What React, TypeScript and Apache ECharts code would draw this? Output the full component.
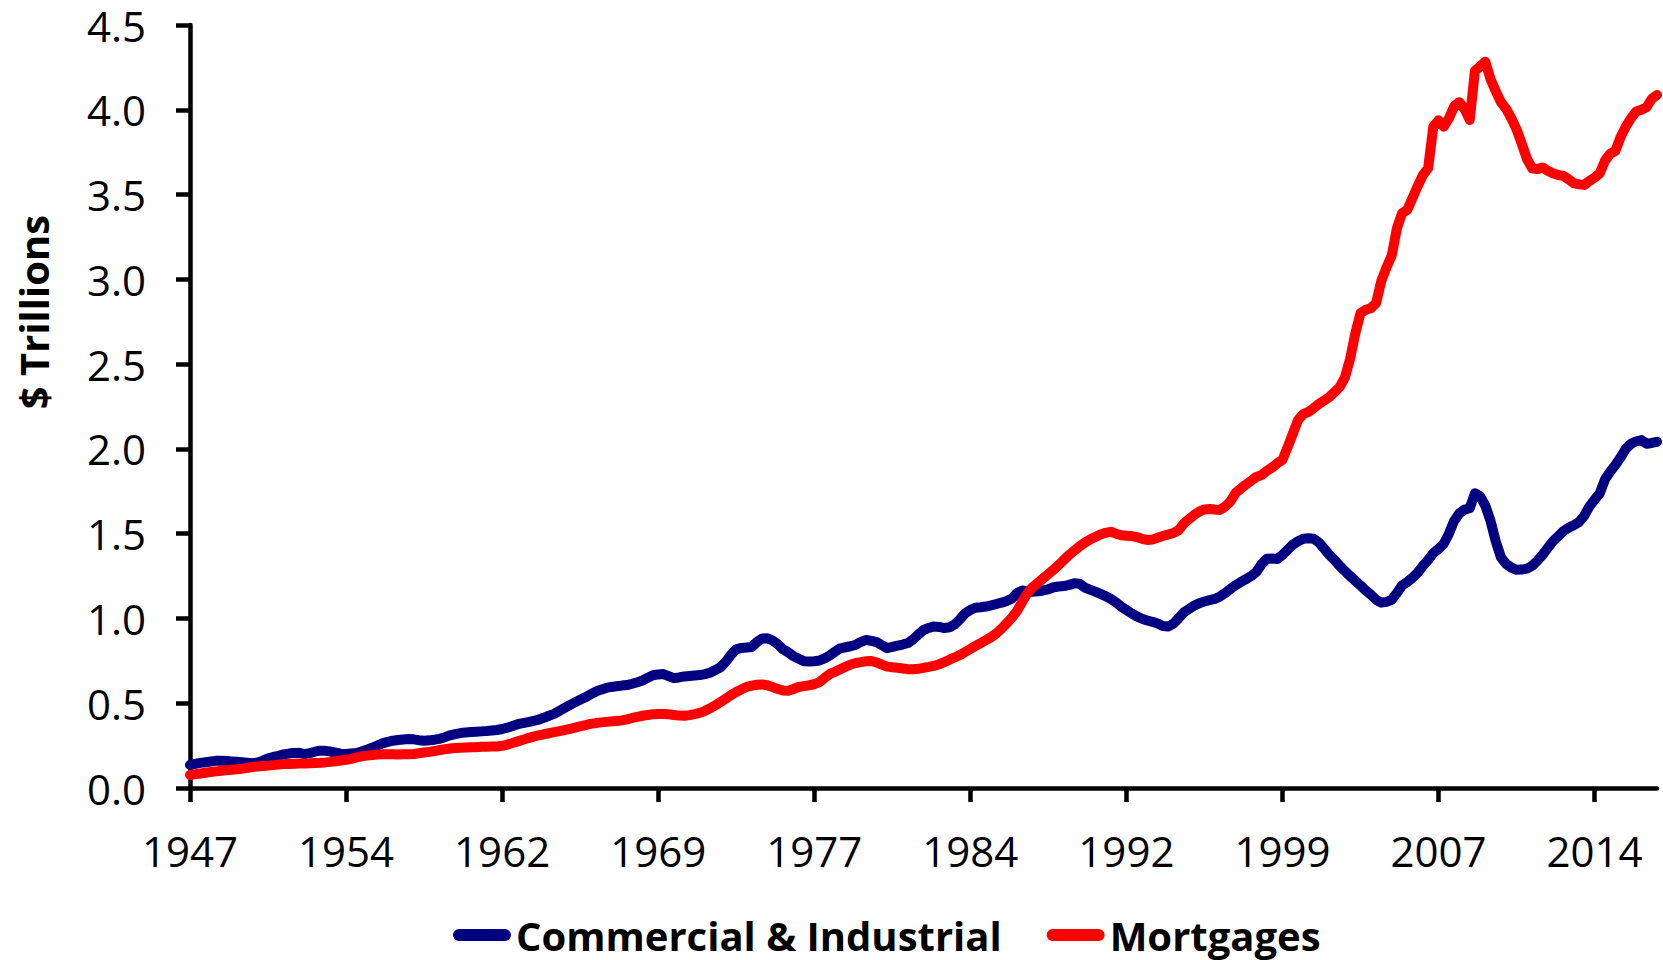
import React, { useEffect, useRef } from "react";
import * as echarts from "echarts";

const START_YEAR = 1947;
const N_QUARTERS = 283;
const CATEGORIES: string[] = [];
for (let i = 0; i < N_QUARTERS; i++) {
  CATEGORIES.push(`${START_YEAR + Math.floor(i / 4)}Q${(i % 4) + 1}`);
}

const Y_TICKS = [0, 0.5, 1, 1.5, 2, 2.5, 3, 3.5, 4, 4.5];

const COMMERCIAL_INDUSTRIAL = [
  0.136, 0.142, 0.148, 0.152, 0.156, 0.160, 0.161, 0.159, 0.157, 0.155,
  0.152, 0.149, 0.146, 0.150, 0.162, 0.175, 0.183, 0.190, 0.198, 0.203,
  0.207, 0.208, 0.200, 0.206, 0.214, 0.220, 0.219, 0.215, 0.208, 0.202,
  0.200, 0.203, 0.206, 0.215, 0.226, 0.237, 0.250, 0.263, 0.272, 0.279,
  0.283, 0.286, 0.289, 0.287, 0.282, 0.279, 0.281, 0.285, 0.290, 0.300,
  0.311, 0.318, 0.324, 0.328, 0.330, 0.332, 0.334, 0.336, 0.339, 0.342,
  0.348, 0.356, 0.366, 0.376, 0.383, 0.389, 0.395, 0.403, 0.414, 0.426,
  0.437, 0.455, 0.472, 0.489, 0.505, 0.520, 0.535, 0.552, 0.569, 0.580,
  0.590, 0.596, 0.600, 0.604, 0.607, 0.615, 0.624, 0.634, 0.650, 0.665,
  0.670, 0.672, 0.660, 0.648, 0.652, 0.658, 0.661, 0.664, 0.666, 0.672,
  0.680, 0.696, 0.712, 0.745, 0.786, 0.818, 0.826, 0.829, 0.832, 0.862,
  0.882, 0.883, 0.870, 0.848, 0.818, 0.800, 0.778, 0.762, 0.748, 0.746,
  0.748, 0.752, 0.765, 0.782, 0.804, 0.824, 0.830, 0.836, 0.845, 0.862,
  0.873, 0.868, 0.860, 0.842, 0.825, 0.832, 0.840, 0.846, 0.855, 0.876,
  0.905, 0.932, 0.944, 0.953, 0.950, 0.943, 0.948, 0.965, 0.995, 1.030,
  1.050, 1.063, 1.066, 1.070, 1.077, 1.085, 1.093, 1.103, 1.118, 1.150,
  1.165, 1.160, 1.157, 1.160, 1.165, 1.172, 1.184, 1.188, 1.191, 1.198,
  1.208, 1.205, 1.182, 1.170, 1.158, 1.145, 1.132, 1.115, 1.095, 1.070,
  1.050, 1.030, 1.012, 0.998, 0.988, 0.980, 0.970, 0.955, 0.952, 0.968,
  1.000, 1.035, 1.055, 1.075, 1.090, 1.100, 1.108, 1.115, 1.130, 1.150,
  1.175, 1.196, 1.215, 1.232, 1.250, 1.275, 1.320, 1.352, 1.353, 1.350,
  1.375, 1.405, 1.435, 1.455, 1.470, 1.473, 1.470, 1.448, 1.412, 1.376,
  1.345, 1.310, 1.280, 1.250, 1.222, 1.195, 1.165, 1.140, 1.110, 1.093,
  1.098, 1.110, 1.150, 1.195, 1.215, 1.240, 1.270, 1.310, 1.345, 1.385,
  1.410, 1.440, 1.500, 1.575, 1.620, 1.642, 1.650, 1.738, 1.720, 1.665,
  1.575, 1.455, 1.360, 1.322, 1.300, 1.287, 1.288, 1.294, 1.310, 1.340,
  1.375, 1.415, 1.455, 1.485, 1.515, 1.535, 1.550, 1.568, 1.605, 1.660,
  1.700, 1.738, 1.820, 1.865, 1.905, 1.950, 2.000, 2.030, 2.045, 2.052,
  2.030, 2.035, 2.042,
];

const MORTGAGES = [
  0.077, 0.082, 0.086, 0.090, 0.094, 0.098, 0.102, 0.105, 0.108, 0.111,
  0.114, 0.119, 0.124, 0.127, 0.130, 0.132, 0.135, 0.138, 0.141, 0.142,
  0.143, 0.144, 0.145, 0.146, 0.148, 0.149, 0.151, 0.154, 0.158, 0.162,
  0.166, 0.172, 0.180, 0.187, 0.191, 0.194, 0.197, 0.199, 0.199, 0.199,
  0.198, 0.199, 0.199, 0.201, 0.205, 0.209, 0.213, 0.218, 0.224, 0.229,
  0.233, 0.236, 0.238, 0.239, 0.240, 0.241, 0.243, 0.244, 0.245, 0.245,
  0.249, 0.256, 0.265, 0.275, 0.285, 0.294, 0.303, 0.310, 0.317, 0.323,
  0.329, 0.335, 0.341, 0.348, 0.356, 0.364, 0.371, 0.378, 0.383, 0.387,
  0.390, 0.393, 0.395, 0.399, 0.405, 0.413, 0.420, 0.426, 0.431, 0.435,
  0.437, 0.437, 0.435, 0.431, 0.427, 0.426, 0.430, 0.436, 0.443, 0.455,
  0.470, 0.488, 0.507, 0.527, 0.548, 0.566, 0.582, 0.596, 0.604, 0.609,
  0.611, 0.606, 0.595, 0.584, 0.575, 0.573, 0.584, 0.596, 0.601, 0.606,
  0.612, 0.625, 0.650, 0.673, 0.685, 0.700, 0.715, 0.728, 0.737, 0.742,
  0.748, 0.749, 0.740, 0.728, 0.716, 0.712, 0.709, 0.705, 0.701, 0.700,
  0.703, 0.709, 0.714, 0.720, 0.730, 0.742, 0.757, 0.770, 0.784, 0.802,
  0.820, 0.838, 0.855, 0.872, 0.890, 0.912, 0.940, 0.972, 1.005, 1.045,
  1.100, 1.150, 1.185, 1.210, 1.236, 1.262, 1.288, 1.315, 1.345, 1.375,
  1.400, 1.425, 1.447, 1.465, 1.480, 1.495, 1.505, 1.511, 1.500, 1.490,
  1.488, 1.486, 1.480, 1.470, 1.463, 1.465, 1.476, 1.486, 1.495, 1.503,
  1.520, 1.558, 1.585, 1.610, 1.630, 1.643, 1.645, 1.642, 1.640, 1.660,
  1.690, 1.740, 1.765, 1.790, 1.812, 1.835, 1.846, 1.870, 1.890, 1.915,
  1.935, 2.010, 2.090, 2.170, 2.205, 2.218, 2.240, 2.265, 2.285, 2.305,
  2.335, 2.365, 2.420, 2.530, 2.680, 2.800, 2.820, 2.830, 2.860, 2.990,
  3.070, 3.140, 3.300, 3.390, 3.410, 3.480, 3.550, 3.615, 3.655, 3.900,
  3.938, 3.900, 3.950, 4.020, 4.045, 4.005, 3.940, 4.230, 4.255, 4.283,
  4.180, 4.110, 4.045, 4.005, 3.950, 3.885, 3.800, 3.710, 3.655, 3.650,
  3.660, 3.640, 3.625, 3.615, 3.610, 3.590, 3.567, 3.560, 3.557, 3.580,
  3.600, 3.625, 3.700, 3.740, 3.757, 3.840, 3.900, 3.950, 3.990, 4.000,
  4.015, 4.065, 4.087,
];

const SERIES_NAMES = ["Commercial & Industrial", "Mortgages"];
const SERIES_COLORS = ["#000080", "#FF0000"];

const FONT = "'Open Sans', 'Noto Sans', sans-serif";
const LEGEND_ICON = "path://M6,0L52,0A6,6,0,0,1,52,12L6,12A6,6,0,0,1,6,0Z";

export default function App() {
  const ref = useRef<HTMLDivElement>(null);

  useEffect(() => {
    if (!ref.current) return;
    const chart = echarts.init(ref.current, null, { renderer: "svg" });
    const axisStyle = { color: "#000", width: 4.5 };
    chart.setOption({
      animation: false,
      backgroundColor: "#fff",
      grid: { left: 190, right: 6, top: 25, bottom: 172, containLabel: false },
      legend: {
        left: 453,
        top: 915,
        padding: 0,
        itemWidth: 58,
        itemHeight: 12,
        itemGap: 45,
        textStyle: { fontFamily: FONT, fontWeight: "bold", fontSize: 40, color: "#000" },
        data: SERIES_NAMES.map((n) => ({ name: n, icon: LEGEND_ICON })),
      },
      graphic: [
        {
          type: "text",
          x: 33,
          y: 312,
          rotation: Math.PI / 2,
          style: {
            text: "$ Trillions",
            font: `bold 40px ${FONT}`,
            fill: "#000",
            textAlign: "center",
            textVerticalAlign: "middle",
          },
        },
      ],
      xAxis: {
        type: "category",
        boundaryGap: false,
        data: CATEGORIES,
        axisLine: { show: true, lineStyle: axisStyle },
        axisTick: { show: true, interval: 29, length: 14, lineStyle: axisStyle },
        axisLabel: {
          interval: 29,
          margin: 41,
          fontFamily: FONT,
          fontSize: 42,
          color: "#000",
          formatter: (v: string) => v.slice(0, 4),
        },
        splitLine: { show: false },
      },
      yAxis: {
        type: "value",
        min: Y_TICKS[0],
        max: Y_TICKS[Y_TICKS.length - 1],
        interval: 0.5,
        axisLine: { show: true, lineStyle: axisStyle },
        axisTick: { show: true, length: 14, lineStyle: axisStyle },
        axisLabel: {
          margin: 44,
          fontFamily: FONT,
          fontSize: 42,
          color: "#000",
          formatter: (v: number) => v.toFixed(1),
        },
        splitLine: { show: false },
      },
      series: [COMMERCIAL_INDUSTRIAL, MORTGAGES].map((d, i) => ({
        name: SERIES_NAMES[i],
        type: "line",
        data: d,
        showSymbol: false,
        symbol: "none",
        smooth: false,
        color: SERIES_COLORS[i],
        lineStyle: { color: SERIES_COLORS[i], width: 10, cap: "round", join: "round" },
        itemStyle: { color: SERIES_COLORS[i] },
      })),
    });
    return () => chart.dispose();
  }, []);

  return (
    <div
      ref={ref}
      style={{ position: "fixed", left: 0, top: 0, width: 1663, height: 960, background: "#fff" }}
    />
  );
}
